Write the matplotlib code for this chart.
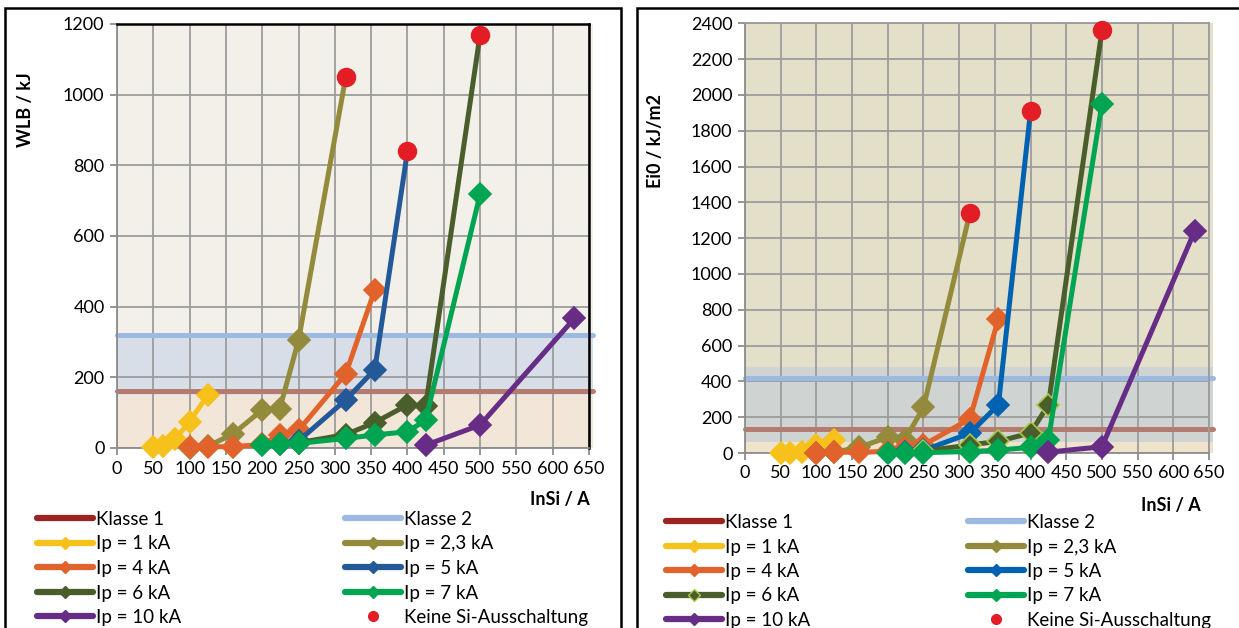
import matplotlib
matplotlib.use("Agg")
import matplotlib.pyplot as plt
from matplotlib.lines import Line2D
from matplotlib.patches import Rectangle

plt.rcParams['font.family'] = ['Lato', 'DejaVu Sans']

# fuse ratings (A)
x_ip1 = [50, 63, 80, 100, 125]
x_ip23 = [100, 125, 160, 200, 224, 250, 315]
x_ip4 = [100, 125, 160, 200, 224, 250, 315, 355]
x_ip5 = [224, 250, 315, 355, 400]
x_ip6 = [250, 315, 355, 400, 425, 500]
x_ip7 = [200, 224, 250, 315, 355, 400, 425, 500]
x_ip10 = [425, 500, 630]
x_keine = [315, 400, 500]

# left: WLB / kJ
wlb_ip1 = [2, 5, 25, 75, 150]
wlb_ip23 = [0, 5, 40, 108, 110, 305, 1050]
wlb_ip4 = [2, 3, 4, 10, 37, 50, 210, 447]
wlb_ip5 = [12, 20, 136, 222, 840]
wlb_ip6 = [15, 38, 72, 122, 118, 1170]
wlb_ip7 = [8, 11, 13, 27, 37, 46, 79, 718]
wlb_ip10 = [8, 65, 367]
wlb_keine = [1050, 840, 1170]
wlb_klasse1 = 160
wlb_klasse2 = 320

# right: Ei0 / kJ/m2
ei_ip1 = [0, 2, 5, 45, 70]
ei_ip23 = [0, 5, 32, 88, 73, 255, 1340]
ei_ip4 = [0, 5, 3, 10, 26, 45, 190, 750]
ei_ip5 = [5, 15, 110, 270, 1910]
ei_ip6 = [10, 45, 65, 112, 270, 2360]
ei_ip7 = [0, 0, 2, 8, 16, 32, 73, 1950]
ei_ip10 = [5, 35, 1240]
ei_keine = [1340, 1910, 2360]
ei_klasse1 = 132
ei_klasse2 = 421

labels = ["Ip = 1 kA", "Ip = 2,3 kA", "Ip = 4 kA", "Ip = 5 kA",
          "Ip = 6 kA", "Ip = 7 kA", "Ip = 10 kA"]
colors_l = ['#f7c11b', '#948a3c', '#e1622b', '#235899', '#4a5e2b', '#00a551', '#662c86']
colors_r = ['#f7c11b', '#948a3c', '#e1622b', '#0062b0', '#4a5e2b', '#00a551', '#662c86']
red = '#e31d25'

fig = plt.figure(figsize=(12.39, 6.28), dpi=100)

def fx(px):
    return px / 1239

def fy(py):
    return 1 - py / 628

# panel frames
fig.patches.append(Rectangle((fx(5), fy(640)), fx(616), fy(8) - fy(640),
                             transform=fig.transFigure, fill=False, lw=1.8, ec='black'))
fig.patches.append(Rectangle((fx(637), fy(640)), fx(610), fy(8) - fy(640),
                             transform=fig.transFigure, fill=False, lw=1.8, ec='black'))


def panel(ax, xs, ys, keine, k1, k2, ymax, ystep, colors, bands, black_frame, ylabel, ylab_pos, xlab_pos, leg_pos):
    ax.set_xlim(0, 650)
    ax.set_ylim(0, ymax)
    for lo, hi, c in bands:
        ax.axhspan(lo, hi, xmin=0, xmax=1.008, color=c, zorder=0, lw=0, clip_on=False)
    ax.set_xticks(range(0, 651, 50))
    ax.set_yticks(range(0, ymax + 1, ystep))
    ax.grid(True, color='#9c9c9c', lw=1.3, zorder=1)
    ax.set_axisbelow(True)
    ax.tick_params(axis='both', direction='out', length=5, width=1.3, color='#8c8c8c',
                   labelsize=13, pad=4)
    for s in ['left', 'bottom']:
        ax.spines[s].set_color('#8c8c8c')
        ax.spines[s].set_linewidth(1.3)
    for s in ['top', 'right']:
        ax.spines[s].set_color('black' if black_frame else '#9c9c9c')
        ax.spines[s].set_linewidth(1.8 if black_frame else 1.3)

    ax.plot([0, 655], [k1, k1], color='#b57b6e', lw=3.6, zorder=2, clip_on=False,
            solid_capstyle='round')
    ax.plot([0, 655], [k2, k2], color='#9cb9e2', lw=3.6, zorder=2, clip_on=False,
            solid_capstyle='round')

    keine_pts = set(zip(x_keine, keine))
    handles = []
    for i, (x, y) in enumerate(zip(xs, ys)):
        mec = '#a8c84a' if i == 4 and not black_frame else colors[i]
        n = len(x)
        every = list(range(n - 1)) if (x[-1], y[-1]) in keine_pts else list(range(n))
        ax.plot(x, y, color=colors[i], lw=3.6, marker='D', ms=11, mec=mec, mew=1.2,
                markevery=every, zorder=3 + i, clip_on=False)
        handles.append(Line2D([], [], color=colors[i], lw=4.5, marker='D', ms=6, mec=mec,
                              solid_capstyle='round'))
    ax.plot(x_keine, keine, 'o', color=red, ms=13, zorder=12, clip_on=False)
    h_keine = Line2D([], [], ls='none', marker='o', color=red, ms=7)
    h_k1 = Line2D([], [], color='#9b2423', lw=4.5, solid_capstyle='round')
    h_k2 = Line2D([], [], color='#9cb9e2', lw=4.5, solid_capstyle='round')

    fig.text(fx(ylab_pos[0]), fy(ylab_pos[1]), ylabel, rotation=90, ha='center', va='center',
             fontsize=13, fontweight='bold')
    fig.text(fx(xlab_pos[0]), fy(xlab_pos[1]), "InSi / A", ha='right', va='center',
             fontsize=13, fontweight='bold')

    col1 = [h_k1, handles[0], handles[2], handles[4], handles[6]]
    lab1 = ["Klasse 1", labels[0], labels[2], labels[4], labels[6]]
    col2 = [h_k2, handles[1], handles[3], handles[5], h_keine]
    lab2 = ["Klasse 2", labels[1], labels[3], labels[5], "Keine Si-Ausschaltung"]
    kw = dict(loc='upper left', frameon=False, fontsize=13.5, handlelength=3.0,
              handletextpad=0.15, labelspacing=0.4, borderpad=0, borderaxespad=0,
              bbox_transform=fig.transFigure)
    l1 = ax.legend(col1, lab1, bbox_to_anchor=(fx(leg_pos[0]), fy(leg_pos[2])), **kw)
    ax.add_artist(l1)
    ax.legend(col2, lab2, bbox_to_anchor=(fx(leg_pos[1]), fy(leg_pos[2])), **kw)


ax1 = fig.add_axes([fx(117), fy(448), fx(589 - 117), fy(24) - fy(448)])
panel(ax1,
      [x_ip1, x_ip23, x_ip4, x_ip5, x_ip6, x_ip7, x_ip10],
      [wlb_ip1, wlb_ip23, wlb_ip4, wlb_ip5, wlb_ip6, wlb_ip7, wlb_ip10],
      wlb_keine, wlb_klasse1, wlb_klasse2, 1200, 200, colors_l,
      [(0, 150, '#f2e6d8'), (150, 325, '#d7dee7'), (325, 1200, '#f2f0e8')],
      True, "WLB / kJ", (25, 110), (590, 500), (37, 345, 511))

ax2 = fig.add_axes([fx(745), fy(453), fx(1209 - 745), fy(23.3) - fy(453)])
panel(ax2,
      [x_ip1, x_ip23, x_ip4, x_ip5, x_ip6, x_ip7, x_ip10],
      [ei_ip1, ei_ip23, ei_ip4, ei_ip5, ei_ip6, ei_ip7, ei_ip10],
      ei_keine, ei_klasse1, ei_klasse2, 2400, 200, colors_r,
      [(0, 63, '#f0e3cb'), (63, 482, '#cfd4d2'), (482, 2400, '#e4dfc8')],
      False, "Ei0 / kJ/m2", (656, 141), (1201, 506), (666, 968, 514))

fig.savefig("out.png", dpi=100)
